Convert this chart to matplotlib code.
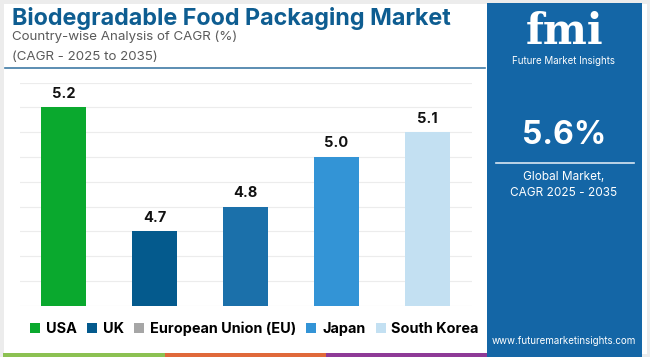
import matplotlib
matplotlib.use("Agg")
import matplotlib.pyplot as plt
from matplotlib.patches import Rectangle
from matplotlib.lines import Line2D

categories = ["USA", "UK", "European Union (EU)", "Japan", "South Korea"]
values = [5.2, 4.7, 4.8, 5.0, 5.1]
bar_colors = ["#0aa92e", "#045a8d", "#1b70aa", "#3394d6", "#c3e0f2"]
legend_colors = ["#0aa92e", "#045a8d", "#a6a6a6", "#3394d6", "#c3e0f2"]
title = "Biodegradable Food Packaging Market"
subtitle1 = "Country-wise Analysis of CAGR (%)"
subtitle2 = "(CAGR - 2025 to 2035)"
global_cagr = "5.6%"
panel_text = "Global Market,\nCAGR 2025 - 2035"
url = "www.futuremarketinsights.com"

plt.rcParams['font.family'] = ['Inter', 'DejaVu Sans']

W, H = 650, 357
fig = plt.figure(figsize=(6.5, 3.57), dpi=100)
fig.patch.set_facecolor("white")

def fx(px):
    return px / W

def fy(py):
    return 1 - py / H

# light frame
fig.add_artist(Rectangle((0, 0), 1, 1, transform=fig.transFigure, facecolor="none",
                         edgecolor="#ececec", linewidth=5, zorder=0))

# right panel
fig.add_artist(Rectangle((fx(487), 0), fx(642 - 487), fy(3), transform=fig.transFigure,
                         facecolor="#1466a6", edgecolor="none", zorder=1))

# bottom stripes
for x0, x1, c in [(3, 165, "#8cc152"), (165, 326, "#e0693a"), (326, 487, "#8e3a97")]:
    fig.add_artist(Rectangle((fx(x0), 0), fx(x1 - x0), 4 / H, transform=fig.transFigure,
                             facecolor=c, edgecolor="none", zorder=2))

# title and subtitles
fig.text(fx(12), fy(18), title, fontsize=16.8, fontweight="bold", color="#0e5d91",
         va="center", ha="left")
fig.text(fx(12), fy(37), subtitle1, fontsize=9.6, color="#5a5a5a", va="center", ha="left")
fig.text(fx(12), fy(57), subtitle2, fontsize=9.6, color="#5a5a5a", va="center", ha="left")
fig.add_artist(Line2D([fx(5), fx(485)], [fy(68), fy(68)], transform=fig.transFigure,
                      color="#3f7aa6", linewidth=1.2))

# logo
fig.text(fx(565), fy(32), "fmi", fontsize=30, fontweight="bold", color="white",
         family=["DejaVu Serif"], ha="center", va="center")
fig.text(fx(564), fy(61), "Future Market Insights", fontsize=7, color="white",
         ha="center", va="center")

# panel texts
fig.text(fx(564), fy(136), global_cagr, fontsize=23, fontweight="bold", color="white",
         ha="center", va="center")
fig.add_artist(Line2D([fx(496), fx(634)], [fy(163), fy(163)], transform=fig.transFigure,
                      color="#d8e6f2", linewidth=1.2))
fig.text(fx(564), fy(185), panel_text, fontsize=8.5, color="white", ha="center",
         va="center", linespacing=1.5)
fig.text(fx(564), fy(341), url, fontsize=7, color="white", ha="center", va="center")

# chart
ax = fig.add_axes([fx(20), 1 - 305.7 / H, fx(472 - 20), (305.7 - 82.7) / H])
ax.set_facecolor("none")
x = list(range(len(categories)))
ax.bar(x, values, width=0.5, color=bar_colors, zorder=3, bottom=0)
ax.set_ylim(4.4, 5.3)
ax.set_xlim(-0.48, 4.49)
ax.set_yticks([4.4 + 0.1 * i for i in range(10)])
ax.grid(axis="y", color="#ececec", linewidth=0.8, zorder=0)
ax.tick_params(left=False, bottom=False, labelleft=False, labelbottom=False)
for s in ax.spines.values():
    s.set_visible(False)
for xi, v in zip(x, values):
    ax.text(xi, v + 0.055, f"{v:.1f}", ha="center", va="center", fontsize=10.5,
            fontweight="bold", color="#111111")

# legend
handles = [Rectangle((0, 0), 1, 1, facecolor=c, edgecolor="none") for c in legend_colors]
fig.legend(handles, categories, loc="center", bbox_to_anchor=(fx(254.5), fy(329)), ncol=5,
           frameon=False, prop={"weight": "bold", "size": 10.4}, handlelength=0.7,
           handleheight=0.7, handletextpad=0.4, columnspacing=0.7)

fig.savefig("out.png", dpi=100, facecolor="white")
